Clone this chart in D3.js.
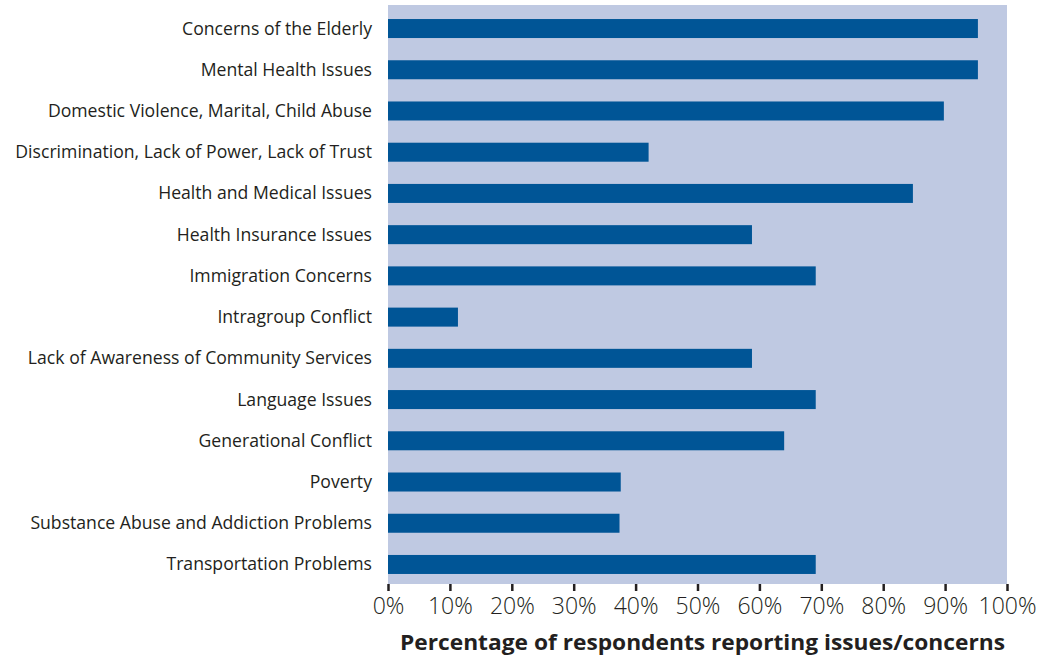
<!DOCTYPE html>
<html><head><meta charset="utf-8">
<script src="https://cdn.jsdelivr.net/npm/d3@7"></script>
<style>body{margin:0;background:#fff;} svg{display:block;}</style>
</head><body>
<svg id="chart" width="1058" height="657"></svg>
<script>
const categories = [
  "Concerns of the Elderly",
  "Mental Health Issues",
  "Domestic Violence, Marital, Child Abuse",
  "Discrimination, Lack of Power, Lack of Trust",
  "Health and Medical Issues",
  "Health Insurance Issues",
  "Immigration Concerns",
  "Intragroup Conflict",
  "Lack of Awareness of Community Services",
  "Language Issues",
  "Generational Conflict",
  "Poverty",
  "Substance Abuse and Addiction Problems",
  "Transportation Problems"
];
const values = [95.3, 95.3, 89.8, 42.1, 84.8, 58.8, 69.1, 11.3, 58.8, 69.1, 64.0, 37.6, 37.4, 69.1];
const tickValues = [0,10,20,30,40,50,60,70,80,90,100];
const axisTitle = "Percentage of respondents reporting issues/concerns";

const svg = d3.select("#chart");
const pLeft = 388, pRight = 1007, pBottom = 584;
const FONT = "'Open Sans', Lato, sans-serif";
const x = d3.scaleLinear().domain([0,100]).range([pLeft,pRight]);
const y = d3.scaleBand().domain(categories).range([7.9, 585.1]).paddingInner(0.539).paddingOuter(0.27);

svg.append("rect").attr("x",pLeft).attr("y",5).attr("width",pRight-pLeft).attr("height",pBottom-5).attr("fill","#bfc9e2");

svg.selectAll("rect.bar").data(categories).enter().append("rect")
  .attr("class","bar")
  .attr("x",x(0)).attr("y",d=>y(d))
  .attr("width",(d,i)=>x(values[i])-x(0))
  .attr("height",y.bandwidth())
  .attr("fill","#005596");

const cats = svg.selectAll("text.cat").data(categories).enter().append("text")
  .attr("class","cat")
  .attr("x",372).attr("y",d=>y(d)+y.bandwidth()/2 + 6)
  .attr("text-anchor","end")
  .attr("font-family",FONT)
  .attr("font-size","20px")
  .attr("fill","#231f20")
  .text(d=>d);
// fit font size so that the longest label spans the same width as in the reference
{
  const longest = cats.filter(d=>d===categories[3]).node();
  const w = longest.getComputedTextLength();
  const fs = 20*357/w;
  cats.attr("font-size", fs+"px");
}

const axis = d3.axisBottom(x).tickValues(tickValues).tickFormat(d=>d+"%").tickSize(7).tickSizeOuter(0);
const g = svg.append("g").attr("transform",`translate(0,${pBottom})`).call(axis);
g.select(".domain").remove();
g.selectAll(".tick line").attr("stroke","#231f20").attr("stroke-width",2.5);
const tt = g.selectAll(".tick text").attr("font-family",FONT).attr("font-weight",300)
  .attr("font-size","20px").attr("fill","#231f20").attr("y",30).attr("dy","0");
{
  const last = tt.filter(d=>d===100).node();
  const w = last.getComputedTextLength();
  tt.attr("font-size", (20*58/w)+"px");
}

svg.append("text").attr("x",702.5).attr("y",650).attr("text-anchor","middle")
  .attr("font-family",FONT).attr("font-weight",700)
  .attr("font-size","22px").attr("fill","#231f20")
  .attr("textLength",605).attr("lengthAdjust","spacingAndGlyphs")
  .text(axisTitle);
</script>
</body></html>
